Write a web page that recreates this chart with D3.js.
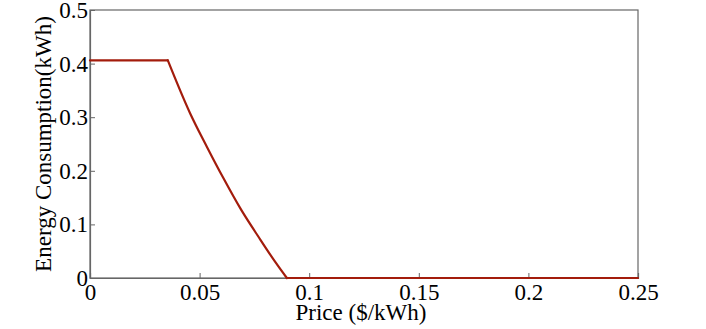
<!DOCTYPE html>
<html>
<head>
<meta charset="utf-8">
<script src="https://cdn.jsdelivr.net/npm/d3@7"></script>
<style>
  body { margin: 0; background: #fff; }
  text { font-family: "Liberation Serif", "Times New Roman", Times, serif; }
</style>
</head>
<body>
<div id="chart"></div>
<script>
// price ($/kWh) and energy consumption (kWh)
let price  = [0, 0.0355, 0.0457, 0.0533, 0.0609, 0.0690, 0.0770, 0.0845, 0.0898, 0.25];
let energy = [0.406, 0.406, 0.307, 0.245, 0.186, 0.127, 0.076, 0.030, 0, 0];
let xTicks = [0, 0.05, 0.1, 0.15, 0.2, 0.25];
let yTicks = [0, 0.1, 0.2, 0.3, 0.4, 0.5];

let serif = "Liberation Serif";

let margin = {top: 10, right: 68, bottom: 51, left: 90},
    width = 706 - margin.left - margin.right,
    height = 329 - margin.top - margin.bottom;

let svg = d3.select("#chart")
    .append("svg")
    .attr("width", 706)
    .attr("height", 329)
    .append("g")
    .attr("transform", `translate(${margin.left}, ${margin.top})`);

let x = d3.scaleLinear().domain([0, 0.25]).range([0, width]);
let y = d3.scaleLinear().domain([0, 0.5]).range([height, 0]);

// box
svg.append("rect")
    .attr("width", width)
    .attr("height", height)
    .attr("fill", "none")
    .attr("stroke", "#666")
    .attr("stroke-width", 1.2);

// axes with inward ticks
let xAxis = svg.append("g")
    .attr("transform", `translate(0, ${height})`)
    .call(d3.axisBottom(x).tickValues(xTicks).tickSize(-5).tickPadding(8)
        .tickFormat(d => String(+d.toFixed(2))));

let yAxis = svg.append("g")
    .call(d3.axisLeft(y).tickValues(yTicks).tickSize(-5).tickPadding(2)
        .tickFormat(d => String(+d.toFixed(1))));

[xAxis, yAxis].forEach(a => {
    a.attr("font-family", null).attr("font-size", null);
    a.select(".domain").attr("stroke", "#666").attr("stroke-width", 1.2);
    a.selectAll(".tick line").attr("stroke", "#666");
    a.selectAll(".tick text")
        .attr("fill", "#000")
        .style("font-family", serif)
        .style("font-size", "23px");
});
xAxis.selectAll(".tick text").attr("dy", "0.62em");
yAxis.selectAll(".tick text").attr("dy", "0.33em");

// the curve: flat parts straight, the falling part smoothed
let data = price.map((p, i) => ({p: p, e: energy[i]}));
let n = data.length;
let pieces = [
    {pts: data.slice(0, 2), curve: d3.curveLinear},
    {pts: data.slice(1, n - 1), curve: d3.curveMonotoneX},
    {pts: data.slice(n - 2), curve: d3.curveLinear}
];
pieces.forEach(piece => {
    svg.append("path")
        .datum(piece.pts)
        .attr("fill", "none")
        .attr("stroke", "#a31c0c")
        .attr("stroke-width", 2.2)
        .attr("stroke-linecap", "round")
        .attr("d", d3.line().x(d => x(d.p)).y(d => y(d.e)).curve(piece.curve));
});

// labels
svg.append("text")
    .attr("x", 271)
    .attr("y", height + 42)
    .attr("text-anchor", "middle")
    .style("font-family", serif)
    .style("font-size", "23px")
    .text("Price ($/kWh)");

svg.append("text")
    .attr("transform", `translate(-39, ${height / 2}) rotate(-90)`)
    .attr("text-anchor", "middle")
    .style("font-family", serif)
    .style("font-size", "23px")
    .text("Energy Consumption(kWh)");
</script>
</body>
</html>
